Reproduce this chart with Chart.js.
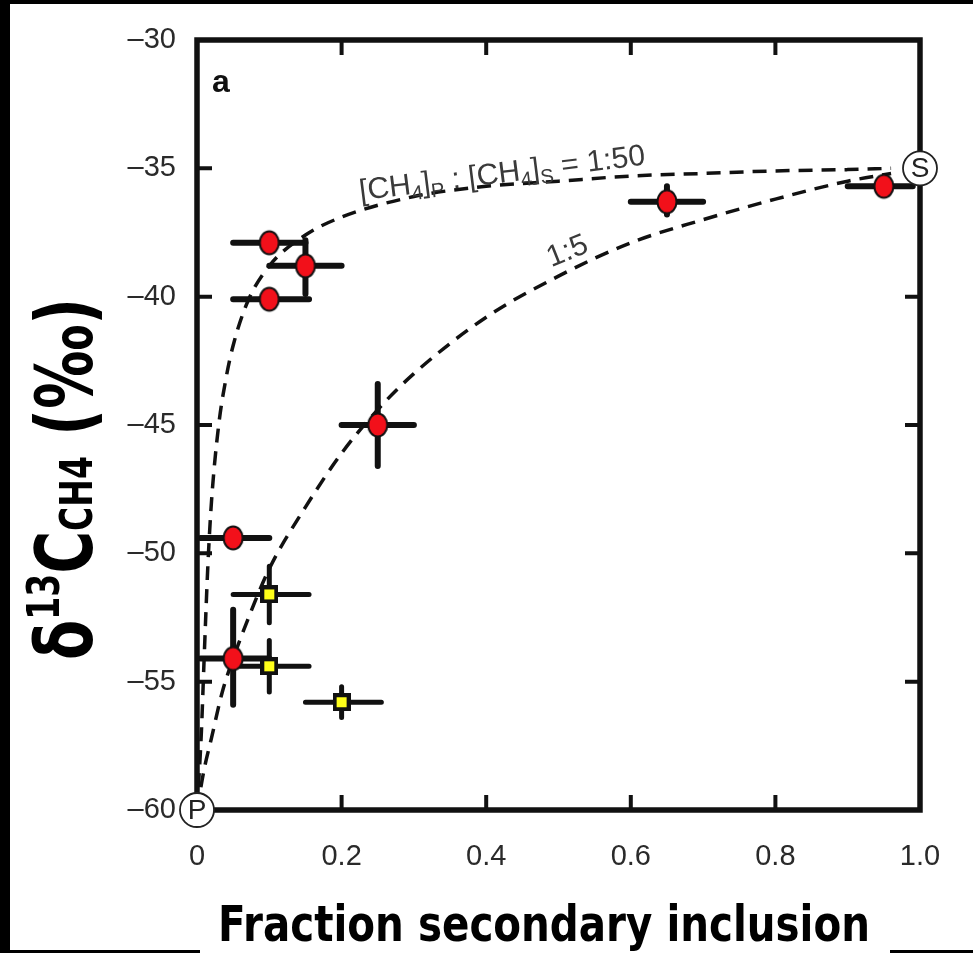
<!DOCTYPE html>
<html>
<head>
<meta charset="utf-8">
<script src="https://cdn.jsdelivr.net/npm/chart.js@4.4.1/dist/chart.umd.min.js"></script>
<style>
  html, body { margin: 0; padding: 0; background: #000; }
  canvas { display: block; }
</style>
</head>
<body>
<canvas id="chart" width="973" height="953" style="width:973px;height:953px"></canvas>
<script>
// Mixing curves
const mixX50 = [0, 0.006, 0.01, 0.015, 0.02, 0.03, 0.04, 0.05, 0.07, 0.1, 0.15, 0.2, 0.3, 0.4, 0.5, 0.6, 0.7, 0.8, 0.9, 0.96];
const mixY50 = [-60, -57.0, -54.0, -50.5, -48.0, -45.0, -43.2, -41.9, -40.2, -38.8, -37.6, -36.9, -36.1, -35.7, -35.5, -35.3, -35.2, -35.1, -35.05, -35.0];
const mixX5 = [0, 0.01, 0.02, 0.035, 0.05, 0.07, 0.1, 0.15, 0.2, 0.25, 0.3, 0.4, 0.5, 0.6, 0.7, 0.8, 0.9, 0.96];
const mixY5 = [-60, -58.4, -57.2, -55.4, -54.1, -52.6, -50.6, -48.2, -46.1, -44.4, -43.0, -40.8, -39.2, -37.9, -37.0, -36.2, -35.5, -35.2];

// Red circles
const redX   = [0.10, 0.15, 0.10, 0.65, 0.95, 0.25, 0.05, 0.05];
const redY   = [-37.9, -38.8, -40.1, -36.3, -35.7, -45.0, -49.4, -54.1];
const redXLo = [0.05, 0.10, 0.05, 0.60, 0.90, 0.20, 0.005, 0.005];
const redXHi = [0.15, 0.20, 0.155, 0.70, 0.99, 0.30, 0.10, 0.10];
const redYLo = [-37.6, -37.8, -39.8, -35.7, -35.5, -43.4, -49.1, -52.2];
const redYHi = [-38.2, -39.9, -40.4, -36.8, -35.9, -46.6, -49.7, -55.9];

// Yellow squares
const yelX   = [0.10, 0.10, 0.20];
const yelY   = [-51.6, -54.4, -55.8];
const yelXLo = [0.05, 0.06, 0.15];
const yelXHi = [0.155, 0.155, 0.255];
const yelYLo = [-50.5, -53.4, -55.2];
const yelYHi = [-52.7, -55.4, -56.4];

// End members
const endLabels = ['P', 'S'];
const endX = [0, 1.0];
const endY = [-60, -35];

const xTicks = [0, 0.2, 0.4, 0.6, 0.8, 1.0];
const yTicks = [-60, -55, -50, -45, -40, -35, -30];

const tickFont = '"Liberation Sans", Arial, sans-serif';
const titleFont = '"Comic Sans MS", "DejaVu Sans", sans-serif';

function pts(xs, ys) { return xs.map((x, i) => ({ x: x, y: ys[i] })); }

// marker images
function redMarker() {
    const c = document.createElement('canvas');
    c.width = 24; c.height = 28;
    const g = c.getContext('2d');
    g.beginPath();
    g.ellipse(12, 14, 9.5, 11.5, 0, 0, Math.PI * 2);
    g.fillStyle = '#f2101a';
    g.fill();
    g.lineWidth = 2;
    g.strokeStyle = '#111';
    g.stroke();
    return c;
}
function yellowMarker() {
    const c = document.createElement('canvas');
    c.width = 18; c.height = 18;
    const g = c.getContext('2d');
    g.fillStyle = '#111';
    g.fillRect(0, 0, 18, 18);
    g.fillStyle = '#ffff1a';
    g.fillRect(4, 4, 10, 10);
    return c;
}

function drawRich(g, parts, x, y, angle, fit) {
    g.save();
    g.translate(x, y);
    g.rotate(angle);
    let w = 0;
    parts.forEach(p => { g.font = p.font; w += g.measureText(p.t).width; });
    const sx = fit ? fit / w : 1;
    g.scale(sx, 1);
    let cx = 0;
    parts.forEach(p => {
        g.font = p.font;
        g.fillText(p.t, cx, p.dy || 0);
        cx += g.measureText(p.t).width;
    });
    g.restore();
}

const figurePlugin = {
    id: 'figure',
    beforeDraw(chart) {
        const g = chart.ctx;
        g.save();
        g.fillStyle = '#000';
        g.fillRect(0, 0, chart.width, chart.height);
        g.fillStyle = '#fff';
        g.fillRect(10, 4, chart.width - 10, 946);
        g.restore();
    },
    beforeDatasetsDraw(chart) {
        const g = chart.ctx, xs = chart.scales.x, ys = chart.scales.y;
        g.save();
        g.strokeStyle = '#111';
        g.lineCap = 'round';
        const bars = (X, Y, xl, xh, yl, yh, lw) => {
            g.lineWidth = lw;
            X.forEach((x, i) => {
                const px = xs.getPixelForValue(x), py = ys.getPixelForValue(Y[i]);
                g.beginPath();
                g.moveTo(xs.getPixelForValue(xl[i]), py);
                g.lineTo(xs.getPixelForValue(xh[i]), py);
                g.moveTo(px, ys.getPixelForValue(yl[i]));
                g.lineTo(px, ys.getPixelForValue(yh[i]));
                g.stroke();
            });
        };
        bars(redX, redY, redXLo, redXHi, redYLo, redYHi, 6);
        bars(yelX, yelY, yelXLo, yelXHi, yelYLo, yelYHi, 5);
        g.restore();
    },
    afterDatasetsDraw(chart) {
        const g = chart.ctx, a = chart.chartArea, xs = chart.scales.x, ys = chart.scales.y;
        g.save();
        // frame
        g.strokeStyle = '#111';
        g.lineWidth = 5.5;
        g.strokeRect(a.left, a.top, a.right - a.left, a.bottom - a.top);
        // inward ticks
        g.lineWidth = 4;
        g.beginPath();
        xTicks.slice(1, -1).forEach(v => {
            const px = xs.getPixelForValue(v);
            g.moveTo(px, a.top); g.lineTo(px, a.top + 15);
            g.moveTo(px, a.bottom); g.lineTo(px, a.bottom - 15);
        });
        yTicks.slice(1, -1).forEach(v => {
            const py = ys.getPixelForValue(v);
            g.moveTo(a.left, py); g.lineTo(a.left + 15, py);
            g.moveTo(a.right, py); g.lineTo(a.right - 15, py);
        });
        g.stroke();

        // end member circles
        endLabels.forEach((lab, i) => {
            const px = xs.getPixelForValue(endX[i]), py = ys.getPixelForValue(endY[i]);
            g.beginPath();
            g.arc(px, py, 17, 0, Math.PI * 2);
            g.fillStyle = '#fff';
            g.fill();
            g.lineWidth = 1.8;
            g.strokeStyle = '#222';
            g.stroke();
            g.fillStyle = '#222';
            g.font = '28px ' + tickFont;
            g.textAlign = 'center';
            g.textBaseline = 'middle';
            g.fillText(lab, px, py + 1);
        });

        // panel letter
        g.textAlign = 'left';
        g.textBaseline = 'alphabetic';
        g.fillStyle = '#111';
        g.font = 'bold 32px ' + tickFont;
        g.fillText('a', a.left + 15, a.top + 52);

        // curve labels
        g.fillStyle = '#3a3a3a';
        const big = '30px ' + tickFont, sub = '20px ' + tickFont;
        drawRich(g, [
            { t: '[CH', font: big }, { t: '4', font: sub, dy: 6 }, { t: ']', font: big },
            { t: 'P', font: sub, dy: 6 }, { t: ' : [CH', font: big }, { t: '4', font: sub, dy: 6 },
            { t: ']', font: big }, { t: 'S', font: sub, dy: 6 }, { t: ' = 1:50', font: big }
        ], xs.getPixelForValue(0.226), ys.getPixelForValue(-36.25), -0.125, 288);
        drawRich(g, [{ t: '1:5', font: big }], xs.getPixelForValue(0.49), ys.getPixelForValue(-38.85), -0.38);

        // x title box and text
        g.fillStyle = '#fff';
        g.fillRect(200, 880, 690, 73);
        g.fillStyle = '#000';
        drawRich(g, [{ t: 'Fraction secondary inclusion', font: 'bold 50px ' + titleFont }], 218, 941, 0, 652);

        // y title
        const yb = 'bold 78px ' + titleFont, ys2 = 'bold 44px ' + titleFont;
        drawRich(g, [
            { t: '\u03b4', font: yb }, { t: '13', font: ys2, dy: -33 }, { t: 'C', font: yb },
            { t: 'CH4', font: ys2 }, { t: ' (\u2030)', font: yb }
        ], 92, 660, -Math.PI / 2, 362);
        g.restore();
    }
};

new Chart(document.getElementById('chart'), {
    type: 'scatter',
    data: {
        datasets: [
            {
                label: '1:50', data: pts(mixX50, mixY50), showLine: true,
                borderColor: '#111', borderWidth: 3.5, borderDash: [14, 9],
                pointRadius: 0, cubicInterpolationMode: 'monotone', order: 3
            },
            {
                label: '1:5', data: pts(mixX5, mixY5), showLine: true,
                borderColor: '#111', borderWidth: 3.5, borderDash: [14, 9],
                pointRadius: 0, cubicInterpolationMode: 'monotone', order: 3
            },
            {
                label: 'red', data: pts(redX, redY), pointStyle: redMarker(),
                pointRadius: 12, order: 1
            },
            {
                label: 'yellow', data: pts(yelX, yelY), pointStyle: yellowMarker(),
                pointRadius: 9, order: 1
            }
        ]
    },
    options: {
        responsive: false,
        animation: false,
        layout: { padding: { left: 0, right: 53, top: 40, bottom: 0 } },
        plugins: { legend: { display: false }, tooltip: { enabled: false } },
        scales: {
            x: {
                type: 'linear', min: 0, max: 1,
                afterFit(s) { s.height = 143; },
                grid: { display: false, drawTicks: false },
                border: { display: false },
                afterBuildTicks(s) { s.ticks = xTicks.map(v => ({ value: v })); },
                ticks: {
                    padding: 30, color: '#2a2a2a',
                    font: { family: tickFont, size: 29 },
                    callback: v => v === 0 ? '0' : Number(v).toFixed(1)
                }
            },
            y: {
                type: 'linear', min: -60, max: -30,
                afterFit(s) { s.width = 197; },
                grid: { display: false, drawTicks: false },
                border: { display: false },
                afterBuildTicks(s) { s.ticks = yTicks.map(v => ({ value: v })); },
                ticks: {
                    padding: 21, color: '#2a2a2a',
                    font: { family: tickFont, size: 29 },
                    callback: v => String(v).replace('-', '\u2013')
                }
            }
        }
    },
    plugins: [figurePlugin]
});
</script>
</body>
</html>
